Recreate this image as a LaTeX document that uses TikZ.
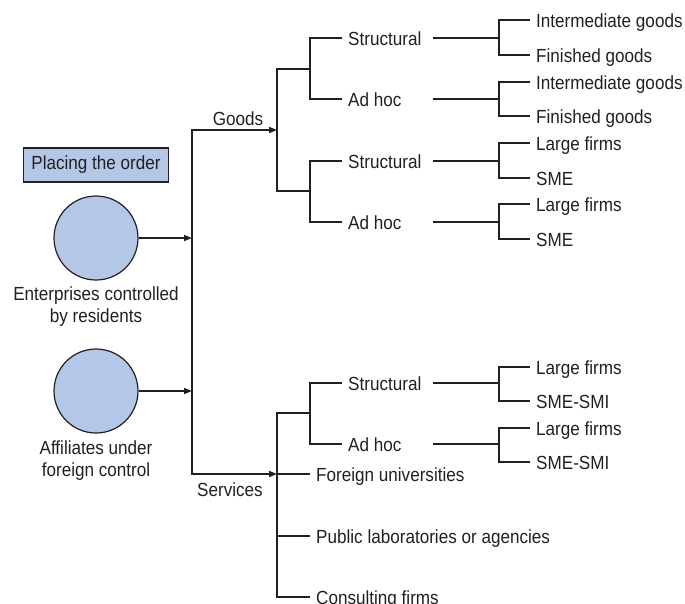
\documentclass[tikz,border=0pt]{standalone}
\usepackage{fontspec}
\setmainfont[FakeStretch=0.9]{Liberation Sans}
\usetikzlibrary{arrows.meta}
\definecolor{nodeblue}{RGB}{180,199,231}
\definecolor{ink}{RGB}{35,31,32}
\tikzset{
  line/.style={line width=1.6pt, draw=ink},
  arr/.style={line, -{Triangle[length=8pt,width=6pt]}},
  lbl/.style={inner xsep=6pt, inner ysep=0pt, text height=14pt, text depth=0pt, anchor=west, text=ink},
  plain/.style={inner sep=0pt, text=ink},
  circ/.style={circle, draw=ink, line width=1.2pt, fill=nodeblue, minimum size=84pt, inner sep=0pt},
  box/.style={draw=ink, line width=1.2pt, fill=nodeblue, minimum width=145pt, minimum height=34pt, inner sep=0pt, text=ink}
}
\begin{document}
\begin{tikzpicture}[x=1pt, y=-1pt, font=\fontsize{19pt}{22pt}\selectfont]
\useasboundingbox (0,0) rectangle (685,603);

% left side
\node[box] (place) at (96,165) {Placing the order};
\node[circ] (c1) at (96,238) {};
\node[plain, anchor=base] (t1a) at (96,300) {Enterprises controlled};
\node[plain, anchor=base] (t1b) at (96,322) {by residents};
\node[circ] (c2) at (96,391) {};
\node[plain, anchor=base] (t2a) at (96,454) {Affiliates under};
\node[plain, anchor=base] (t2b) at (96,476) {foreign control};

% main trunk
\coordinate (j0top) at (192,130);
\coordinate (j0mid) at (192,300);
\coordinate (j0bot) at (192,474);
\coordinate (gin) at (277,130);
\coordinate (sin) at (277,474);
\draw[arr] (j0mid) -- (j0top) -- (gin);
\draw[arr] (j0mid) -- (j0bot) -- (sin);
\draw[arr] (c1.east) -- (c1 -| j0top);
\draw[arr] (c2.east) -- (c2 -| j0top);
\node[plain, anchor=base] (goodsL) at (238,125) {Goods};
\node[plain, anchor=base] (servL) at (230,496) {Services};

% goods level 2
\coordinate (gj1) at (310,69);
\coordinate (gj2) at (310,191);
\draw[line] (gj1) -- (277,69) -- (277,191) -- (gj2);
\node[lbl] (gs1) at (342,38) {Structural};
\node[lbl] (ga1) at (342,99) {Ad hoc};
\node[lbl] (gs2) at (342,161) {Structural};
\node[lbl] (ga2) at (342,222) {Ad hoc};
\draw[line] (gs1.west) -| (gj1) |- (ga1.west);
\draw[line] (gs2.west) -| (gj2) |- (ga2.west);

% goods level 3
\coordinate (k1) at (499,38);
\coordinate (k2) at (499,99);
\coordinate (k3) at (499,161);
\coordinate (k4) at (499,222);
\draw[line] (433,38) -- (k1);
\draw[line] (433,99) -- (k2);
\draw[line] (433,161) -- (k3);
\draw[line] (433,222) -- (k4);
\node[lbl] (l1a) at (530,20) {Intermediate goods};
\node[lbl] (l1b) at (530,55) {Finished goods};
\node[lbl] (l2a) at (530,82) {Intermediate goods};
\node[lbl] (l2b) at (530,116) {Finished goods};
\node[lbl] (l3a) at (530,143) {Large firms};
\node[lbl] (l3b) at (530,178) {SME};
\node[lbl] (l4a) at (530,204) {Large firms};
\node[lbl] (l4b) at (530,239) {SME};
\draw[line] (l1a.west) -| (k1) |- (l1b.west);
\draw[line] (l2a.west) -| (k2) |- (l2b.west);
\draw[line] (l3a.west) -| (k3) |- (l3b.west);
\draw[line] (l4a.west) -| (k4) |- (l4b.west);

% services level 2
\coordinate (sj1) at (310,413);
\node[lbl] (fu) at (310,474) {Foreign universities};
\node[lbl] (pl) at (310,536) {Public laboratories or agencies};
\node[lbl] (cf) at (310,597) {Consulting firms};
\draw[line] (sj1) -- (277,413) |- (cf.west);
\draw[line] (sin) -- (fu.west);
\draw[line] (pl.west) -- (pl.west -| sin);
\node[lbl] (ss1) at (342,383) {Structural};
\node[lbl] (sa1) at (342,444) {Ad hoc};
\draw[line] (ss1.west) -| (sj1) |- (sa1.west);

% services level 3
\coordinate (m1) at (499,383);
\coordinate (m2) at (499,444);
\draw[line] (433,383) -- (m1);
\draw[line] (433,444) -- (m2);
\node[lbl] (n1a) at (530,367) {Large firms};
\node[lbl] (n1b) at (530,401) {SME-SMI};
\node[lbl] (n2a) at (530,428) {Large firms};
\node[lbl] (n2b) at (530,462) {SME-SMI};
\draw[line] (n1a.west) -| (m1) |- (n1b.west);
\draw[line] (n2a.west) -| (m2) |- (n2b.west);
\end{tikzpicture}
\end{document}
